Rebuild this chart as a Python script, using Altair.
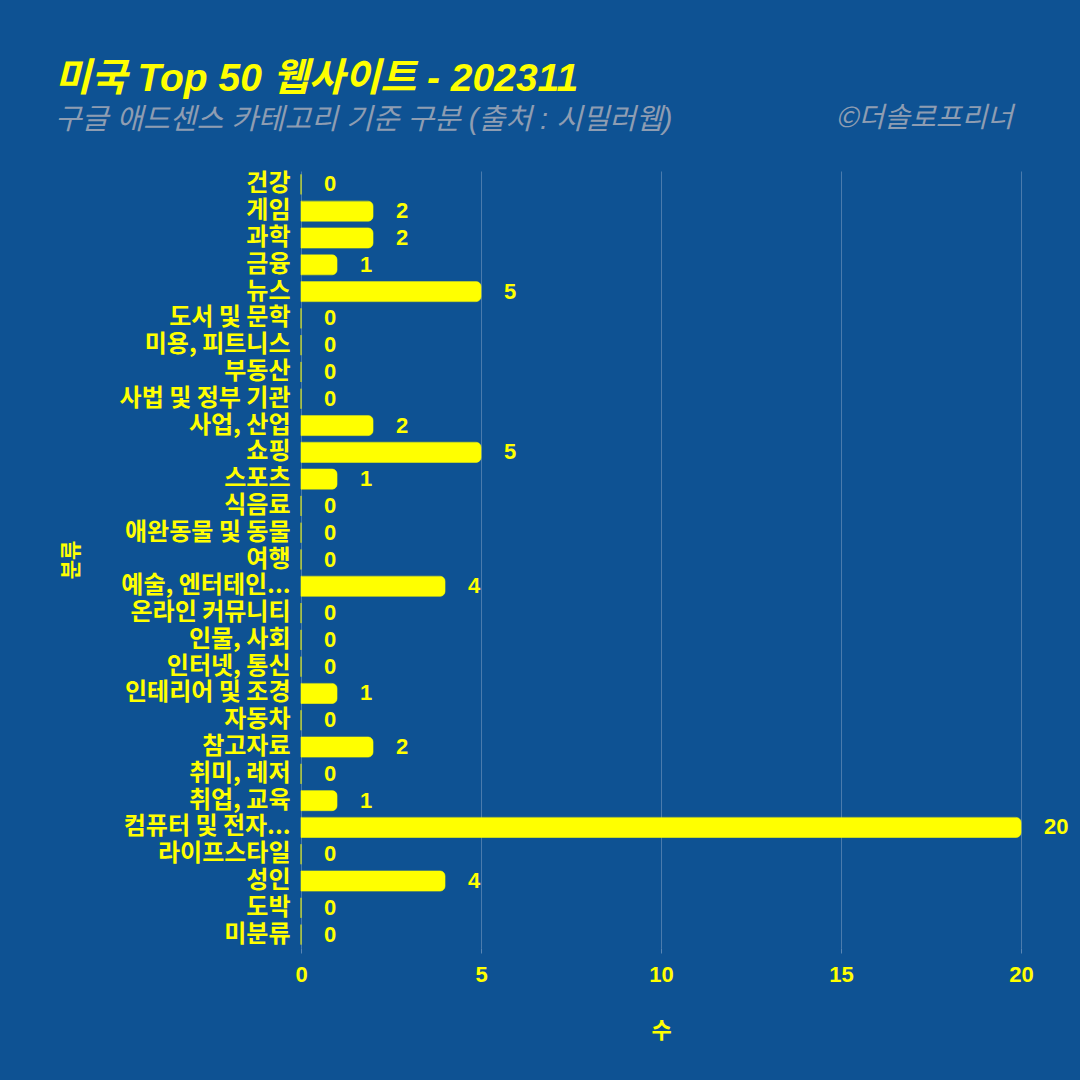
import altair as alt
import pandas as pd

categories = ["건강", "게임", "과학", "금융", "뉴스", "도서 및 문학", "미용, 피트니스", "부동산",
              "사법 및 정부 기관", "사업, 산업", "쇼핑", "스포츠", "식음료", "애완동물 및 동물", "여행",
              "예술, 엔터테인...", "온라인 커뮤니티", "인물, 사회", "인터넷, 통신", "인테리어 및 조경",
              "자동차", "참고자료", "취미, 레저", "취업, 교육", "컴퓨터 및 전자...", "라이프스타일",
              "성인", "도박", "미분류"]
values = [0, 2, 2, 1, 5, 0, 0, 0, 0, 2, 5, 1, 0, 0, 0, 4, 0, 0, 0, 1, 0, 2, 0, 1, 20, 0, 4, 0, 0]
x_ticks = [0, 5, 10, 15, 20]
title_text = "미국 Top 50 웹사이트 - 202311"
subtitle_text = "구글 애드센스 카테고리 기준 구분 (출처 : 시밀러웹)"
credit_text = ["©더솔로프리너"]

df = pd.DataFrame({"분류": categories, "수": values})

BG = "#0E5293"
YEL = "#FFFF00"
GRID = "#5A86B4"
GREY = "#8E9DB2"
KFONT = "Noto Sans CJK KR"
LFONT = "Liberation Sans, Noto Sans CJK KR"

y_enc = alt.Y("분류:N", sort=categories,
              scale=alt.Scale(paddingInner=0.25, paddingOuter=0.125),
              axis=alt.Axis(title="분류", domain=False, ticks=False, tickSize=0, grid=False,
                            labelPadding=11, labelFont=KFONT, labelFontSize=24,
                            labelFontWeight="bold", labelColor=YEL, labelLimit=400,
                            titleFont=KFONT, titleFontSize=21, titleFontWeight="bold",
                            titleColor=YEL, titlePadding=38))
x_enc = alt.X("수:Q", scale=alt.Scale(domain=[0, 20], nice=False),
              axis=alt.Axis(title="수", values=x_ticks, grid=True, gridColor=GRID,
                            gridOpacity=0.8, domain=False, ticks=True, tickColor=GRID,
                            tickSize=5, labelPadding=11, labelFlush=False, labelFont=LFONT,
                            labelFontSize=22, labelFontWeight="bold", labelColor=YEL,
                            titleFont=KFONT, titleFontSize=22, titleFontWeight="bold",
                            titleColor=YEL, titlePadding=35))

base = alt.Chart(df)
bars = base.mark_bar(color=YEL, cornerRadiusEnd=5, stroke=YEL, strokeWidth=1,
                     strokeOpacity=0.6).encode(y=y_enc, x=x_enc)
labels = base.mark_text(align="left", baseline="middle", dx=23, color=YEL, font=LFONT,
                        fontSize=22, fontWeight="bold").encode(y=y_enc, x=x_enc, text="수:Q")
credit = alt.Chart(pd.DataFrame({"t": credit_text})).mark_text(
    align="right", baseline="alphabetic", color=GREY, font=KFONT, fontSize=28,
    fontStyle="italic").encode(x=alt.value(712), y=alt.value(-44), text="t:N")

chart = alt.layer(bars, labels, credit).properties(
    width=720, height=777,
    background=BG,
    padding={"left": 301, "top": 171, "right": 59, "bottom": 132},
    autosize=alt.AutoSizeParams(type="none"),
    title=alt.TitleParams(text=title_text, subtitle=subtitle_text, anchor="start",
                          frame="group", dx=-246, offset=-30,
                          font=LFONT, fontSize=39, fontWeight="bold", fontStyle="italic",
                          color=YEL, subtitleFont=LFONT, subtitleFontSize=29,
                          subtitleFontStyle="italic", subtitleColor=GREY, subtitlePadding=7),
).configure_view(stroke=None)

chart.save("out.html", embed_options={"renderer": "svg", "actions": False})
